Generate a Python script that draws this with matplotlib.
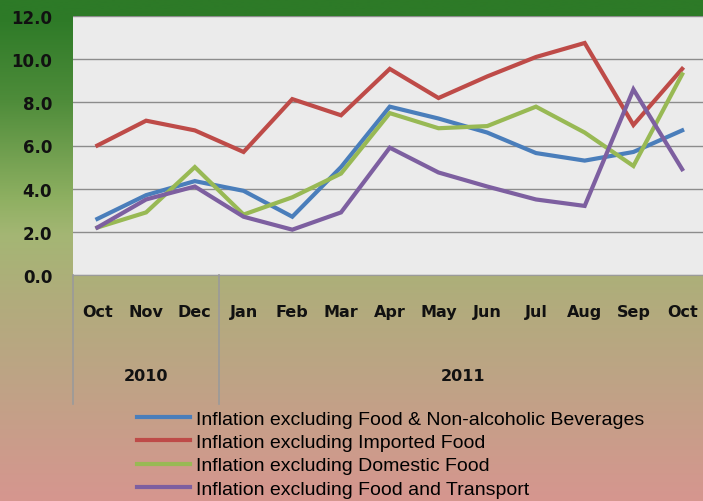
import numpy as np
import matplotlib
matplotlib.use("Agg")
from matplotlib import pyplot as plt
from matplotlib.colors import LinearSegmentedColormap
from matplotlib.lines import Line2D

months = ['Oct', 'Nov', 'Dec', 'Jan', 'Feb', 'Mar', 'Apr', 'May', 'Jun',
          'Jul', 'Aug', 'Sep', 'Oct']
years = ['2010', '2011']
year_spans = [(0, 2), (3, 12)]

excl_food_bev = [2.6, 3.7, 4.35, 3.9, 2.7, 5.0, 7.8, 7.25, 6.6, 5.65, 5.3, 5.7, 6.7]
excl_imported = [6.0, 7.15, 6.7, 5.7, 8.15, 7.4, 9.55, 8.2, 9.2, 10.1, 10.75, 6.95, 9.55]
excl_domestic = [2.2, 2.9, 5.0, 2.8, 3.6, 4.7, 7.5, 6.8, 6.9, 7.8, 6.6, 5.05, 9.3]
excl_transport = [2.2, 3.5, 4.1, 2.7, 2.1, 2.9, 5.9, 4.75, 4.1, 3.5, 3.2, 8.6, 4.9]

series = [
    ('Inflation excluding Food & Non-alcoholic Beverages', excl_food_bev, '#4a7ebb'),
    ('Inflation excluding Imported Food', excl_imported, '#be4b48'),
    ('Inflation excluding Domestic Food', excl_domestic, '#98b954'),
    ('Inflation excluding Food and Transport', excl_transport, '#7d5fa0'),
]

W, H = 703, 502
fig = plt.figure(figsize=(W / 100, H / 100), dpi=100)

# background gradient
bg = fig.add_axes([0, 0, 1, 1], zorder=-10)
grad = LinearSegmentedColormap.from_list('bg', [
    (0.0, '#2d7a27'), (0.035, '#2d7a27'), (0.2, '#4e8c3a'), (0.4, '#8fb062'),
    (0.47, '#a4b674'), (0.6, '#b1ac7c'), (0.75, '#bda485'), (1.0, '#d6968f')])
bg.imshow(np.linspace(0, 1, 256).reshape(-1, 1), aspect='auto', cmap=grad,
          extent=[0, 1, 0, 1], origin='upper')
bg.set_xlim(0, 1)
bg.set_ylim(0, 1)
bg.axis('off')

left = 73 / W
bottom = 1 - 276 / H
top = 1 - 17 / H
ax = fig.add_axes([left, bottom, 1.005 - left, top - bottom])
ax.set_facecolor('#ebebeb')

x = np.arange(len(months))
for name, vals, col in series:
    ax.plot(x, vals, color=col, lw=3.0, solid_joinstyle='miter', label=name)

ax.set_xlim(-0.5, 12.5)
ax.set_ylim(0, 12)
ax.set_yticks(np.arange(0, 13, 2))
ax.set_yticklabels([f'{v:.1f}' for v in np.arange(0, 13, 2)],
                   fontsize=12, fontweight='bold', color='#111111')
ax.tick_params(axis='y', length=0, pad=15)
ax.set_xticks([])
ax.grid(axis='y', color='#8c8c8c', lw=1)
ax.set_axisbelow(True)
for s in ['top', 'right', 'left']:
    ax.spines[s].set_visible(False)
ax.spines['bottom'].set_color('#9a9a9a')

# category labels below plot
trans = ax.get_xaxis_transform()
for i, m in enumerate(months):
    ax.text(i, -37 / 259, m, transform=trans, ha='center', va='center',
            fontsize=11.5, fontweight='bold', color='#111111')
for (a, b), yr in zip(year_spans, years):
    ax.text((a + b) / 2, -101 / 259, yr, transform=trans, ha='center',
            va='center', fontsize=11.5, fontweight='bold', color='#111111')
for xs in [-0.5, 2.5]:
    ax.add_line(Line2D([xs, xs], [0, -129 / 259], transform=trans,
                       color='#9a9a9a', lw=1.2, clip_on=False))

handles = [Line2D([], [], color=c, lw=3) for _, _, c in series]
fig.legend(handles, [n for n, _, _ in series], loc='upper left',
           bbox_to_anchor=(137 / W, 1 - 411 / H), frameon=False,
           prop={'family': ['Liberation Sans', 'DejaVu Sans'], 'size': 14},
           handlelength=2.7, handletextpad=0.35, labelspacing=0.3,
           borderaxespad=0, borderpad=0)

fig.savefig('out.png', dpi=100)
